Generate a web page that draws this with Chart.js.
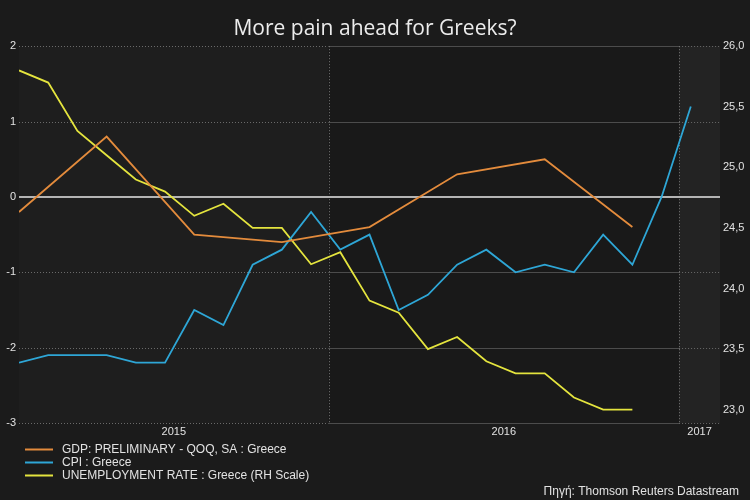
<!DOCTYPE html>
<html><head><meta charset="utf-8">
<script src="https://cdn.jsdelivr.net/npm/chart.js@4"></script>
<style>
html,body{margin:0;padding:0;background:#1b1b1b;overflow:hidden;}
#wrap{width:750px;height:500px;position:relative;}
</style>
</head><body>
<div id="wrap"><canvas id="c" width="750" height="500"></canvas></div>
<script>
// ---------- data ----------
const titleText = 'More pain ahead for Greeks?';
const sourceText = 'Πηγή: Thomson Reuters Datastream';
const seriesLabels = ['GDP: PRELIMINARY - QOQ, SA : Greece', 'CPI : Greece', 'UNEMPLOYMENT RATE : Greece (RH Scale)'];
const yearLabels = ['2015', '2016', '2017'];

const gdpMonths = ['2015-02','2015-05','2015-08','2015-11','2016-02','2016-05','2016-08','2016-11'];
const gdpValues = [-0.2, 0.8, -0.5, -0.6, -0.4, 0.3, 0.5, -0.4];

const cpiMonths = ['2015-02','2015-03','2015-04','2015-05','2015-06','2015-07','2015-08','2015-09','2015-10','2015-11','2015-12',
                   '2016-01','2016-02','2016-03','2016-04','2016-05','2016-06','2016-07','2016-08','2016-09','2016-10','2016-11','2016-12','2017-01'];
const cpiValues = [-2.2, -2.1, -2.1, -2.1, -2.2, -2.2, -1.5, -1.7, -0.9, -0.7, -0.2,
                   -0.7, -0.5, -1.5, -1.3, -0.9, -0.7, -1.0, -0.9, -1.0, -0.5, -0.9, 0.0, 1.2];

const unempMonths = ['2015-02','2015-03','2015-04','2015-05','2015-06','2015-07','2015-08','2015-09','2015-10','2015-11','2015-12',
                     '2016-01','2016-02','2016-03','2016-04','2016-05','2016-06','2016-07','2016-08','2016-09','2016-10','2016-11'];
const unempValues = [25.8, 25.7, 25.3, 25.1, 24.9, 24.8, 24.6, 24.7, 24.5, 24.5, 24.2,
                     24.3, 23.9, 23.8, 23.5, 23.6, 23.4, 23.3, 23.3, 23.1, 23.0, 23.0];

const leftTicks = [-3, -2, -1, 0, 1, 2];
const rightTicks = [23.0, 23.5, 24.0, 24.5, 25.0, 25.5, 26.0];

// ---------- helpers ----------
const BASE_YEAR = 2015;
function monthPos(s) { // month string -> months since Jan 1 2015 (sample date within month)
  const [y, m] = s.split('-').map(Number);
  return (y - BASE_YEAR) * 12 + (m - 1) + 0.4;
}
function toPoints(months, values) { return months.map((m, i) => ({ x: monthPos(m), y: values[i] })); }

const xMin = monthPos(cpiMonths[0]);
const xMax = xMin + 24;
const yearStarts = yearLabels.map(y => (Number(y) - BASE_YEAR) * 12);

const colors = { gdp: '#e38b3c', cpi: '#2ea6d6', unemp: '#e4e43e' };
const BG = '#1b1b1b';
const BAND_COLORS = ['#1e1e1e', '#191919', '#232323'];
const TEXT = '#e2e2e2';
const FONT = '"Liberation Sans", Arial, sans-serif';

const decorPlugin = {
  id: 'decor',
  beforeDraw(chart) {
    const ctx = chart.ctx;
    ctx.save();
    ctx.fillStyle = BG;
    ctx.fillRect(0, 0, chart.width, chart.height);
    ctx.restore();
  },
  beforeDatasetsDraw(chart) {
    const ctx = chart.ctx, ca = chart.chartArea;
    const xs = chart.scales.x, yl = chart.scales.y;
    const bands = yearStarts.map((s, i) => {
      const a = Math.max(s, xMin), b = Math.min(s + 12, xMax);
      return { l: xs.getPixelForValue(a), r: xs.getPixelForValue(b), light: i % 2 === 0, fill: BAND_COLORS[i] };
    });
    ctx.save();
    bands.forEach(bd => {
      ctx.fillStyle = bd.fill;
      ctx.fillRect(bd.l, ca.top, bd.r - bd.l, ca.bottom - ca.top);
    });
    // horizontal grid lines
    leftTicks.forEach(t => {
      if (t === 0) return;
      const y = Math.round(yl.getPixelForValue(t)) + 0.5;
      bands.forEach(bd => {
        ctx.beginPath();
        if (bd.light) { ctx.setLineDash([1, 2]); ctx.strokeStyle = '#6a6a6a'; }
        else { ctx.setLineDash([]); ctx.strokeStyle = '#4c4c4c'; }
        ctx.lineWidth = 1;
        ctx.moveTo(bd.l, y); ctx.lineTo(bd.r, y); ctx.stroke();
      });
    });
    // year boundary lines
    ctx.setLineDash([1, 2]);
    ctx.strokeStyle = '#777777';
    ctx.lineWidth = 1;
    yearStarts.forEach(s => {
      if (s <= xMin || s >= xMax) return;
      const x = Math.round(xs.getPixelForValue(s)) + 0.5;
      ctx.beginPath(); ctx.moveTo(x, ca.top); ctx.lineTo(x, ca.bottom); ctx.stroke();
    });
    // zero line
    ctx.setLineDash([]);
    ctx.strokeStyle = '#b4b4b4';
    ctx.lineWidth = 2;
    const y0 = yl.getPixelForValue(0);
    ctx.beginPath(); ctx.moveTo(ca.left, y0); ctx.lineTo(ca.right, y0); ctx.stroke();
    ctx.restore();
  },
  afterDraw(chart) {
    const ctx = chart.ctx, ca = chart.chartArea;
    ctx.save();
    ctx.font = '12px ' + FONT;
    ctx.textBaseline = 'middle';
    chart.data.datasets.forEach((ds, i) => {
      const y = ca.bottom + 26.5 + i * 13;
      ctx.strokeStyle = ds.borderColor;
      ctx.lineWidth = 2;
      ctx.beginPath(); ctx.moveTo(25, y); ctx.lineTo(53, y); ctx.stroke();
      ctx.fillStyle = TEXT;
      ctx.textAlign = 'left';
      ctx.fillText(ds.label, 62, y);
    });
    ctx.textAlign = 'right';
    ctx.fillStyle = TEXT;
    ctx.fillText(sourceText, 739, ca.bottom + 68.5);
    ctx.restore();
  }
};

const lineBase = { fill: false, tension: 0, pointRadius: 0, pointHoverRadius: 0, borderWidth: 1.8 };

new Chart(document.getElementById('c'), {
  type: 'line',
  data: {
    datasets: [
      Object.assign({ label: seriesLabels[0], data: toPoints(gdpMonths, gdpValues), borderColor: colors.gdp, yAxisID: 'y' }, lineBase),
      Object.assign({ label: seriesLabels[1], data: toPoints(cpiMonths, cpiValues), borderColor: colors.cpi, yAxisID: 'y' }, lineBase),
      Object.assign({ label: seriesLabels[2], data: toPoints(unempMonths, unempValues), borderColor: colors.unemp, yAxisID: 'y2' }, lineBase)
    ]
  },
  options: {
    responsive: false,
    animation: false,
    events: [],
    layout: { padding: { top: 0, bottom: 60, left: 0, right: 0 } },
    plugins: {
      legend: { display: false },
      tooltip: { enabled: false },
      title: {
        display: true, text: titleText, color: '#ececec',
        font: { family: '"Open Sans", Lato, sans-serif', size: 21, weight: 'normal' },
        padding: { top: 16, bottom: 5 }
      }
    },
    scales: {
      x: {
        type: 'linear', min: xMin, max: xMax,
        grid: { display: false, drawTicks: false }, border: { display: false },
        afterBuildTicks(scale) {
          scale.ticks = yearStarts.map(s => ({ value: (Math.max(s, xMin) + Math.min(s + 12, xMax)) / 2 }));
        },
        afterFit(scale) { scale.height = 17; },
        ticks: {
          autoSkip: false, maxRotation: 0, padding: 2, color: TEXT,
          font: { family: FONT, size: 11 },
          callback: v => String(BASE_YEAR + Math.floor(v / 12))
        }
      },
      y: {
        position: 'left', min: -3, max: 2,
        grid: { display: false, drawTicks: false }, border: { display: false },
        afterBuildTicks(scale) { scale.ticks = leftTicks.map(v => ({ value: v })); },
        afterFit(scale) { scale.width = 19; },
        ticks: { padding: 3, color: TEXT, font: { family: FONT, size: 11 }, callback: v => String(v) }
      },
      y2: {
        position: 'right', min: 22.89, max: 26.0,
        grid: { display: false, drawTicks: false }, border: { display: false },
        afterBuildTicks(scale) { scale.ticks = rightTicks.map(v => ({ value: v })); },
        afterFit(scale) { scale.width = 30; },
        ticks: { padding: 3, color: TEXT, font: { family: FONT, size: 11 }, callback: v => v.toFixed(1).replace('.', ',') }
      }
    }
  },
  plugins: [decorPlugin]
});
</script>
</body></html>
